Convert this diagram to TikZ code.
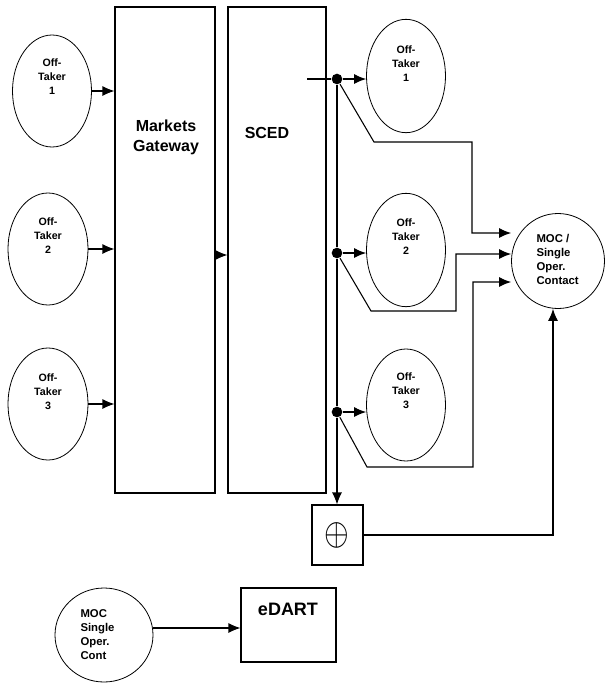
\documentclass[tikz,border=0pt]{standalone}
\usepackage{fontspec}
\setmainfont{Liberation Sans}
\usetikzlibrary{positioning,calc,arrows.meta,shapes.geometric}
\tikzset{font=\bfseries\fontsize{8}{10.5}\selectfont}

\begin{document}
\begin{tikzpicture}[x=0.75pt, y=-0.75pt, >={Latex[length=9pt,width=7.5pt]}, line width=0.8pt]
	\useasboundingbox (0,0) rectangle (605,683);
	\tikzstyle{oval}=[draw, ellipse, inner sep=0pt, line width=0.6pt]
	\tikzstyle{box}=[draw, rectangle, inner sep=0pt]
	\tikzstyle{lbl}=[align=center, inner sep=0pt]
	\tikzstyle{dot}=[circle, fill, inner sep=0pt, minimum size=8pt]
	\tikzstyle{title}=[align=center, inner sep=0pt, font=\bfseries\fontsize{12}{15}\selectfont]

	% off-takers on the left
	\node[oval, minimum width=59.25pt, minimum height=84pt] (ot1) at (52, 91) {};
	\node[oval, minimum width=60pt, minimum height=84pt] (ot2) at (48, 249) {};
	\node[oval, minimum width=60pt, minimum height=84pt] (ot3) at (48, 404) {};
	\node[lbl] (ot1t) at (52, 77) {Off-\\Taker\\1};
	\node[lbl] (ot2t) at (48, 236) {Off-\\Taker\\2};
	\node[lbl] (ot3t) at (48, 392) {Off-\\Taker\\3};

	% the two systems
	\node[box, minimum width=75pt, minimum height=364.5pt] (mg) at (165, 250) {};
	\node[box, minimum width=73.5pt, minimum height=364.5pt] (sced) at (277, 250) {};
	\node[title] (mgt) at (166, 137) {Markets\\Gateway};
	\node[title] (scedt) at (267, 133) {SCED};

	% off-takers on the right
	\node[oval, minimum width=59.25pt, minimum height=85pt] (otr1) at (406, 76) {};
	\node[oval, minimum width=59.25pt, minimum height=85pt] (otr2) at (406, 250) {};
	\node[oval, minimum width=59.25pt, minimum height=84pt] (otr3) at (406, 405) {};
	\node[lbl] (otr1t) at (406, 64) {Off-\\Taker\\1};
	\node[lbl] (otr2t) at (406, 237) {Off-\\Taker\\2};
	\node[lbl] (otr3t) at (406, 391) {Off-\\Taker\\3};

	% contact and sum
	\node[oval, minimum width=69.75pt, minimum height=71.25pt] (moc) at (558, 261) {};
	\node[align=left, inner sep=0pt, anchor=west, font=\bfseries\fontsize{8.5}{10.5}\selectfont] (moct) at (536, 259) {MOC /\\Single\\Oper.\\Contact};
	\node[box, minimum width=38.25pt, minimum height=45pt] (ox) at (337.5, 535) {};
	\node[inner sep=0pt] (oxt) at (337, 535) {\scalebox{2.8}[3.4]{$\oplus$}};

	% bottom pair
	\node[oval, minimum width=73.5pt, minimum height=70.5pt] (mocs) at (104, 635) {};
	\node[align=left, inner sep=0pt, anchor=west, font=\bfseries\fontsize{8.5}{10.5}\selectfont] (mocst) at (80, 635) {MOC\\Single\\Oper.\\Cont};
	\node[box, minimum width=71.25pt, minimum height=55.5pt] (edart) at (288.5, 625) {};
	\node[inner sep=0pt, font=\bfseries\fontsize{13.5}{16}\selectfont] (edartt) at (288, 609) {eDART};

	% bus
	\coordinate (s1) at (307, 79);
	\node[dot] (d1) at (337, 79) {};
	\node[dot] (d2) at (337, 253) {};
	\node[dot] (d3) at (337, 412) {};
	\coordinate (m1) at ([yshift=21pt]moc.west);
	\coordinate (m2) at ([yshift=5.25pt]moc.west);
	\coordinate (m3) at ([yshift=-15.75pt]moc.west);

	\draw[->] (ot1.east) -- (ot1.east -| mg.west);
	\draw[->] (ot2.east) -- (ot2.east -| mg.west);
	\draw[->] (ot3.east) -- (ot3.east -| mg.west);
	\draw[->] ([yshift=-3.75pt]mg.east) -- ([yshift=-3.75pt]mg.east -| sced.west);

	\draw (s1) -- (d1);
	\draw (d1) -- (d2) -- (d3);
	\draw[->] (d3) -- (d3 |- ox.north);
	\draw[->] (d1) -- (d1 -| otr1.west);
	\draw[->] (d2) -- (d2 -| otr2.west);
	\draw[->] (d3) -- (d3 -| otr3.west);

	\draw[->] (d1) -- (374, 142) -| (472, 233) -- (m1);
	\draw[->] (d2) -- (371, 311) -| (456, 254) -- (m2);
	\draw[->] (d3) -- (367, 467) -| (473, 282) -- (m3);
	\draw[->] (ox.east) -| ([xshift=-3.75pt]moc.south);

	\draw[->] ([yshift=5.25pt]mocs.east) -- ([yshift=5.25pt]mocs.east -| edart.west);
\end{tikzpicture}
\end{document}
